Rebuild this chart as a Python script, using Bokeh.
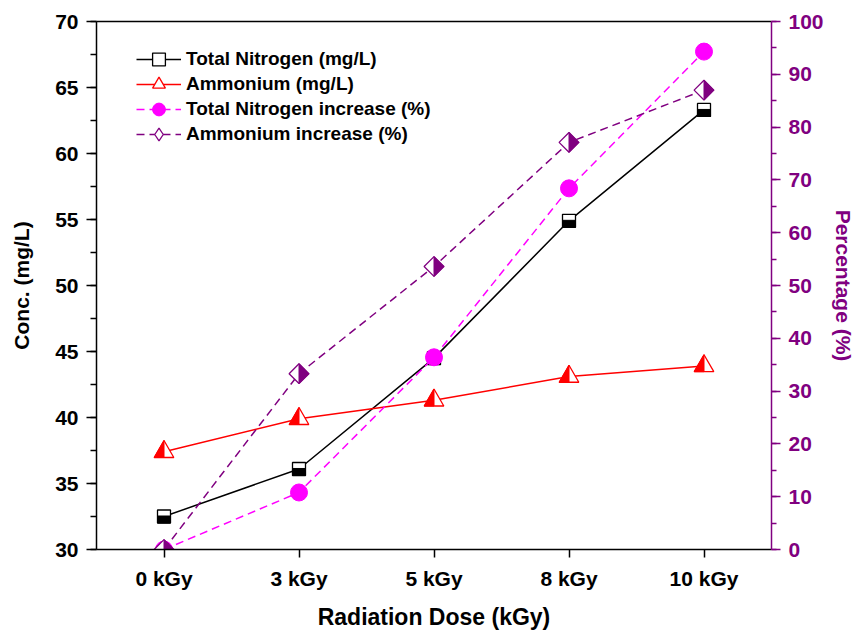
import math
from bokeh.plotting import figure
from bokeh.models import (Range1d, LinearAxis, SingleIntervalTicker, FixedTicker,
                          Legend, LegendItem)
from bokeh.embed import file_html
from bokeh.resources import INLINE

# ---------------- data ----------------
doses = ["0 kGy", "3 kGy", "5 kGy", "8 kGy", "10 kGy"]
total_nitrogen = [32.5, 36.1, 44.5, 54.9, 63.3]          # mg/L
ammonium = [37.4, 39.9, 41.3, 43.1, 43.9]                # mg/L
tn_increase = [0.0, 10.8, 36.4, 68.4, 94.3]              # %
nh4_increase = [0.0, 33.3, 53.6, 77.1, 87.0]             # %
legend_labels = ["Total Nitrogen (mg/L)", "Ammonium (mg/L)",
                 "Total Nitrogen increase (%)", "Ammonium increase (%)"]

# ---------------- styles ----------------
FONT = "Liberation Sans"
PURPLE = "#800080"
MAGENTA = "#FF00FF"
RED = "#FF0000"

W, H = 857, 632
BL, BR, BT, BB = 96, 81, 21, 83
FW, FH = W - BL - BR, H - BT - BB

x = list(range(len(doses)))
X0, X1 = -0.5, len(doses) - 0.5
YL0, YL1 = 30, 70
YR0, YR1 = 0, 100

XPX = FW / (X1 - X0)
YPX_L = FH / (YL1 - YL0)
YPX_R = FH / (YR1 - YR0)


def half_shapes(xv, yv, verts, ypx):
    """Polygons (pixel template -> data units) centred on each data point."""
    xs = [[xi + vx / XPX for vx, vy in verts] for xi in xv]
    ys = [[yi + vy / ypx for vx, vy in verts] for yi in yv]
    return xs, ys


p = figure(width=W, height=H, x_range=Range1d(X0, X1), y_range=Range1d(YL0, YL1),
           output_backend="svg", toolbar_location=None,
           min_border_left=BL, min_border_right=BR, min_border_top=BT, min_border_bottom=BB)
p.extra_y_ranges = {"pct": Range1d(YR0, YR1)}
p.outline_line_color = None
p.xgrid.visible = False
p.ygrid.visible = False
p.background_fill_color = "white"
p.border_fill_color = "white"

# ---------------- axes ----------------
xa = p.xaxis[0]
xa.ticker = FixedTicker(ticks=x)
xa.major_label_overrides = {i: d for i, d in enumerate(doses)}
xa.minor_tick_line_color = None
xa.major_tick_in = 0
xa.major_tick_out = 8
xa.major_tick_line_width = 1.5
xa.axis_line_width = 1.5
xa.major_label_standoff = 9
xa.major_label_text_font = FONT
xa.major_label_text_font_style = "bold"
xa.major_label_text_font_size = "21px"
xa.major_label_text_color = "black"
xa.axis_label = "Radiation Dose (kGy)"
xa.axis_label_text_font = FONT
xa.axis_label_text_font_style = "bold"
xa.axis_label_text_font_size = "23px"
xa.axis_label_text_color = "black"
xa.axis_label_standoff = 11

ya = p.yaxis[0]
ya.ticker = SingleIntervalTicker(interval=5, num_minor_ticks=2)
ya.major_tick_in = 0
ya.major_tick_out = 10
ya.minor_tick_in = 0
ya.minor_tick_out = 6
ya.major_tick_line_width = 1.5
ya.minor_tick_line_width = 1.5
ya.axis_line_width = 1.5
ya.major_label_standoff = 8
ya.major_label_text_font = FONT
ya.major_label_text_font_style = "bold"
ya.major_label_text_font_size = "21px"
ya.major_label_text_color = "black"
ya.axis_label = "Conc. (mg/L)"
ya.axis_label_text_font = FONT
ya.axis_label_text_font_style = "bold"
ya.axis_label_text_font_size = "21px"
ya.axis_label_text_color = "black"
ya.axis_label_standoff = 19

ra = LinearAxis(y_range_name="pct", ticker=SingleIntervalTicker(interval=10, num_minor_ticks=2))
ra.major_tick_in = 0
ra.major_tick_out = 9
ra.minor_tick_in = 0
ra.minor_tick_out = 5
ra.major_tick_line_width = 1.5
ra.minor_tick_line_width = 1.5
ra.axis_line_width = 1.5
ra.axis_line_color = PURPLE
ra.major_tick_line_color = PURPLE
ra.minor_tick_line_color = PURPLE
ra.major_label_standoff = 8
ra.major_label_text_font = FONT
ra.major_label_text_font_style = "bold"
ra.major_label_text_font_size = "21px"
ra.major_label_text_color = PURPLE
ra.axis_label = "Percentage (%)"
ra.axis_label_text_font = FONT
ra.axis_label_text_font_style = "bold"
ra.axis_label_text_font_size = "21px"
ra.axis_label_text_color = PURPLE
ra.axis_label_standoff = 5
p.add_layout(ra, "right")

ta = LinearAxis(ticker=FixedTicker(ticks=[]))
ta.major_tick_line_color = None
ta.minor_tick_line_color = None
ta.axis_line_width = 1.5
ta.major_label_text_font_size = "0px"
p.add_layout(ta, "above")

# ---------------- series ----------------
# Total Nitrogen: square, lower half black
tn_line = p.line(x, total_nitrogen, line_color="black", line_width=1.5)
tn_mk = p.scatter(x, total_nitrogen, marker="square", size=13, fill_color="white",
                  line_color="black", line_width=1.3)
sq = [(-6.5, -6.5), (6.5, -6.5), (6.5, 0.5), (-6.5, 0.5)]
xs, ys = half_shapes(x, total_nitrogen, sq, YPX_L)
p.patches(xs, ys, fill_color="black", line_color="black", line_width=1.0)

# Ammonium: triangle, left half red
nh_line = p.line(x, ammonium, line_color=RED, line_width=1.5)
TRI = 19.6
r = TRI / 2
h = r * math.sqrt(3)
nh_mk = p.scatter(x, ammonium, marker="triangle", size=TRI, fill_color="white",
                  line_color=RED, line_width=1.3)
tri = [(0, 2 * h / 3), (-r, -h / 3), (0, -h / 3)]
xs, ys = half_shapes(x, ammonium, tri, YPX_L)
p.patches(xs, ys, fill_color=RED, line_color=RED, line_width=1.0)

# Total Nitrogen increase: magenta circle
tp_line = p.line(x, tn_increase, y_range_name="pct", line_color=MAGENTA, line_width=1.5,
                 line_dash="8 5")
tp_mk = p.scatter(x, tn_increase, y_range_name="pct", marker="circle", size=17,
                  fill_color=MAGENTA, line_color=MAGENTA)

# Ammonium increase: diamond, right half purple
np_line = p.line(x, nh4_increase, y_range_name="pct", line_color=PURPLE, line_width=1.5,
                 line_dash="8 5")
DS = 14
d = DS * math.sqrt(2) / 2
np_mk = p.scatter(x, nh4_increase, y_range_name="pct", marker="square", size=DS,
                  angle=math.pi / 4, fill_color="white", line_color=PURPLE, line_width=1.3)
dia = [(0, d), (d, 0), (0, -d)]
xs, ys = half_shapes(x, nh4_increase, dia, YPX_R)
p.patches(xs, ys, y_range_name="pct", fill_color=PURPLE, line_color=PURPLE, line_width=1.0)
# legend-only diamond symbol (no visible point)
np_leg = p.scatter([float("nan")], [float("nan")], y_range_name="pct", marker="diamond",
                   size=14, fill_color="white", line_color=PURPLE, line_width=1.3)

# ---------------- legend (one single-row legend per entry) ----------------
legend_renderers = [[tn_line, tn_mk], [nh_line, nh_mk], [tp_line, tp_mk], [np_line, np_leg]]
ROW_PITCH = 25
GLYPH_H = 32
FIRST_ROW_CENTER = 37.5  # px below the frame top
for i, (lab, rends) in enumerate(zip(legend_labels, legend_renderers)):
    centre = FIRST_ROW_CENTER + ROW_PITCH * i
    vy = FH - (centre + GLYPH_H / 2)
    lg = Legend(items=[LegendItem(label=lab, renderers=rends)], location=(40, vy))
    lg.glyph_width = 45
    lg.glyph_height = GLYPH_H
    lg.label_height = GLYPH_H
    lg.spacing = 0
    lg.padding = 0
    lg.margin = 0
    lg.label_standoff = 5
    lg.border_line_color = None
    lg.background_fill_alpha = 0
    lg.label_text_font = FONT
    lg.label_text_font_style = "bold"
    lg.label_text_font_size = "19px"
    lg.label_text_color = "black"
    p.add_layout(lg, "center")

open("out.html", "w").write(file_html(p, INLINE))
